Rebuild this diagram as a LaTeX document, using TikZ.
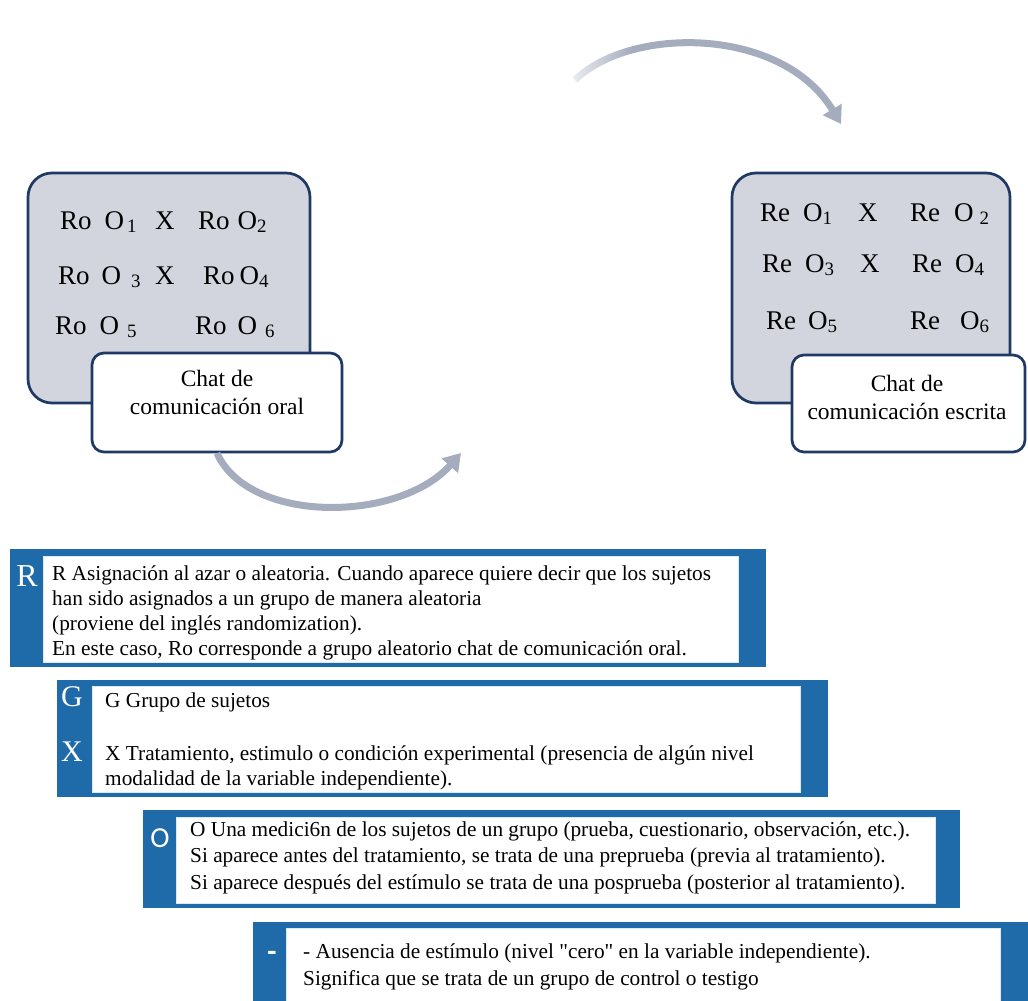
\documentclass[tikz,border=0pt]{standalone}
\usepackage{fontspec}
\setmainfont{Liberation Serif}
\newfontfamily\rectafont{Liberation Serif}[Ligatures=TeXOff]
\newfontfamily\letrafont{Carlito}
\usetikzlibrary{positioning,arrows.meta,fadings}

\definecolor{marino}{RGB}{31,56,100}
\definecolor{grisbox}{RGB}{210,213,222}
\definecolor{azul}{RGB}{31,106,168}
\definecolor{grisflecha}{RGB}{165,172,190}
\tikzfading[name=desvanece, left color=transparent!0, right color=transparent!100]

\begin{document}
\begin{tikzpicture}[x=1pt,y=-1pt]
\tikzset{grupo/.style={draw=marino,line width=2.7pt,fill=grisbox,rounded corners=24pt,inner sep=0pt}}
\tikzset{chat/.style={draw=marino,line width=2.7pt,fill=white,rounded corners=12pt,inner sep=0pt}}
\tikzset{chattxt/.style={align=center,inner sep=0pt,font=\fontsize{23.5}{28}\selectfont}}
\tikzset{dis/.style={anchor=base west,inner sep=0pt,font=\fontsize{27}{30}\selectfont}}
\tikzset{banda/.style={fill=azul,inner sep=0pt}}
\tikzset{hoja/.style={fill=white,draw=white!85!azul,line width=0.8pt,inner sep=0pt}}
\tikzset{letra/.style={text=white,inner sep=0pt,font=\fontsize{32}{32}\selectfont}}
\tikzset{def/.style={anchor=north west,align=left,inner sep=0pt,font=\fontsize{21.3}{25}\selectfont}}
\tikzset{flecha/.style={draw=grisflecha,line width=7pt,-{Triangle[length=17pt,width=21pt]}}}

\useasboundingbox (0,0) rectangle (1028,1001);

% grupo aleatorio del chat oral
\node[grupo,minimum width=282pt,minimum height=230pt] (oral) at (169,288) {};
\node[dis] (o1) at (60,229) {Ro\hspace{13pt}O\hspace{3pt}\textsubscript{1}};
\node[dis] (ox1) at (155,229) {X};
\node[dis] (o2) at (198,229) {Ro\hspace{8pt}O\textsubscript{2}};
\node[dis] (o3) at (58,284) {Ro\hspace{12pt}O\hspace{10pt}\textsubscript{3}};
\node[dis] (ox3) at (155,284) {X};
\node[dis] (o4) at (203,284) {Ro\hspace{5pt}O\textsubscript{4}};
\node[dis] (o5) at (55,334) {Ro\hspace{13pt}O\hspace{8pt}\textsubscript{5}};
\node[dis] (o6) at (195,334) {Ro\hspace{11pt}O\hspace{8pt}\textsubscript{6}};
\node[chat,minimum width=250pt,minimum height=99pt] (oralchat) at (217,402.5) {};
\node[chattxt] (oraltxt) at (217,392) {Chat de\\comunicación oral};

% grupo aleatorio del chat escrito
\node[grupo,minimum width=278pt,minimum height=230pt] (escrita) at (871,288) {};
\node[dis] (e1) at (760,221) {Re\hspace{13pt}O\textsubscript{1}};
\node[dis] (ex1) at (858,221) {X};
\node[dis] (e2) at (910,221) {Re\hspace{14pt}O\hspace{6pt}\textsubscript{2}};
\node[dis] (e3) at (762,272) {Re\hspace{13pt}O\textsubscript{3}};
\node[dis] (ex3) at (860,272) {X};
\node[dis] (e4) at (912,272) {Re\hspace{13pt}O\textsubscript{4}};
\node[dis] (e5) at (766,329) {Re\hspace{12pt}O\textsubscript{5}};
\node[dis] (e6) at (910,329) {Re\hspace{20pt}O\textsubscript{6}};
\node[chat,minimum width=233pt,minimum height=97pt] (escritachat) at (908.5,403.5) {};
\node[chattxt] (escritatxt) at (907,397) {Chat de\\comunicación escrita};

% flechas de ida y vuelta
\coordinate (giro) at (461,453);
\coordinate (salida) at (575,80);
\coordinate (llegada) at (841,124);
\draw[flecha] (oralchat.south) .. controls (250,525) and (400,522) .. (giro);
\draw[flecha] (salida) .. controls (630,26) and (782,26) .. (llegada);
\fill[white,path fading=desvanece] (555,40) rectangle (632,110);

% simbologia
\node[banda,minimum width=756pt,minimum height=118pt] (bandaR) at (388,608) {};
\node[hoja,minimum width=695pt,minimum height=106pt] (hojaR) at (390.5,609) {};
\node[letra] (letraR) at (27,576) {R};
\node[def] (defR) at (52,565) {R Asignación al azar o aleatoria. Cuando aparece quiere decir que los sujetos\\han sido asignados a un grupo de manera aleatoria\\(proviene del inglés randomization).\\En este caso, Ro corresponde a grupo aleatorio chat de comunicación oral.};

\node[banda,minimum width=771pt,minimum height=117pt] (bandaGX) at (442.5,738.5) {};
\node[hoja,minimum width=708pt,minimum height=106pt] (hojaGX) at (446,739) {};
\node[letra,font=\fontsize{30}{30}\selectfont] (letraG) at (72,697) {G};
\node[letra,font=\fontsize{30}{30}\selectfont] (letraX) at (72,752) {X};
\node[def] (defG) at (105,693) {G Grupo de sujetos};
\node[def] (defX) at (105,745) {X Tratamiento, estimulo o condición experimental (presencia de algún nivel\\modalidad de la variable independiente).};

\node[banda,minimum width=817pt,minimum height=98pt] (bandaO) at (551.5,859) {};
\node[hoja,minimum width=759pt,minimum height=86pt] (hojaO) at (555.5,860) {};
\node[letra,font=\letrafont\fontsize{29}{29}\selectfont] (letraO) at (160,838) {O};
\node[def,font=\fontsize{21.3}{26.5}\selectfont] (defO) at (190,821) {O Una medici6n de los sujetos de un grupo (prueba, cuestionario, observación, etc.).\\Si aparece antes del tratamiento, se trata de una preprueba (previa al tratamiento).\\Si aparece después del estímulo se trata de una posprueba (posterior al tratamiento).};

\node[banda,minimum width=775pt,minimum height=79pt] (bandaS) at (640.5,961.5) {};
\node[hoja,minimum width=714pt,minimum height=73pt] (hojaS) at (643,964.5) {};
\node[letra,font=\letrafont\bfseries\fontsize{30}{30}\selectfont] (letraS) at (272,956) {-};
\node[def,font=\rectafont\fontsize{21.3}{27}\selectfont] (defS) at (303,943) {- Ausencia de estímulo (nivel "cero" en la variable independiente).\\Significa que se trata de un grupo de control o testigo};
\end{tikzpicture}
\end{document}
